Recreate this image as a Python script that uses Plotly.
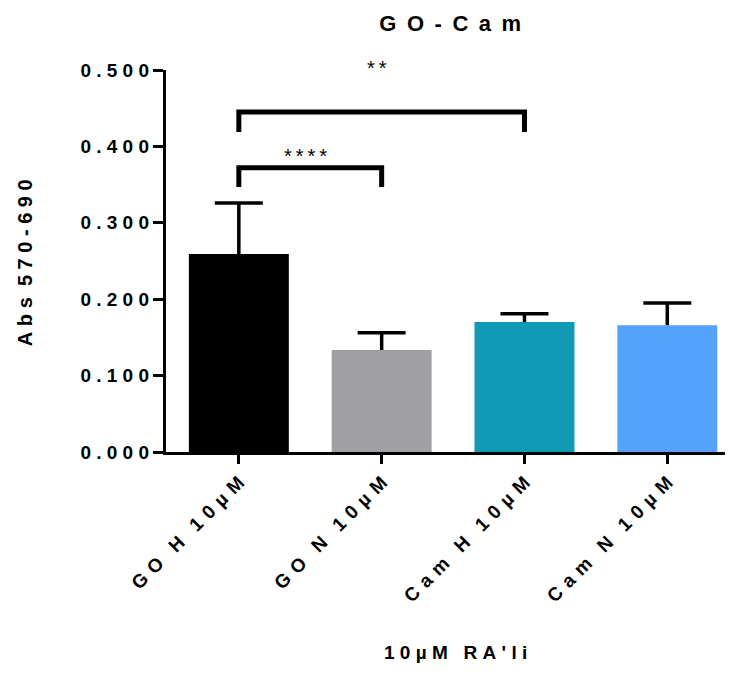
import plotly.graph_objects as go

NB = "\u00a0"   # non-breaking space used for letter spacing
TH = "\u2009"   # thin space
HS = "\u200a"   # hair space

def sp(s, gap=NB, word=NB * 3):
    words = s.split(" ")
    return word.join(gap.join(list(w)) for w in words)

categories = ["GO H 10µM", "GO N 10µM", "Cam H 10µM", "Cam N 10µM"]
means = [0.259, 0.1335, 0.170, 0.166]
sem_upper = [0.067, 0.0225, 0.011, 0.029]
colors = ["#000000", "#a09fa4", "#1099b4", "#55a2fd"]

y_ticks = [0.0, 0.1, 0.2, 0.3, 0.4, 0.5]
y_ticktext = ["0.000", "0.100", "0.200", "0.300", "0.400", "0.500"]

# significance brackets: (x_from, x_to, leg_bottom, top, label, label_y)
brackets = [
    (0, 1, 0.347, 0.372, "****", 0.388),
    (0, 2, 0.419, 0.445, "**", 0.503),
]

x_idx = list(range(len(categories)))
CAP = 0.168  # half cap width in category units
Y_MAX = 0.5

fig = go.Figure()
fig.add_trace(go.Bar(
    x=x_idx, y=means, width=0.7,
    marker=dict(color=colors, line=dict(width=0)),
    showlegend=False, hoverinfo="skip",
))

# upper-only error bars
ex, ey = [], []
for i, (m, s) in enumerate(zip(means, sem_upper)):
    ex += [i, i, None, i - CAP, i + CAP, None]
    ey += [m, m + s, None, m + s, m + s, None]
fig.add_trace(go.Scatter(x=ex, y=ey, mode="lines",
                         line=dict(color="black", width=3.5),
                         showlegend=False, hoverinfo="skip"))

FONT = "Liberation Sans"
for x0, x1, yb, yt, lab, ly in brackets:
    fig.add_trace(go.Scatter(
        x=[x0, x0, x1, x1], y=[yb, yt, yt, yb], mode="lines",
        line=dict(color="black", width=5), showlegend=False,
        cliponaxis=False, hoverinfo="skip",
    ))
    fig.add_annotation(
        x=(x0 + x1) / 2 - 0.03, xref="x", y=ly / Y_MAX, yref="paper",
        text=TH.join(list(lab)), showarrow=False,
        xanchor="center", yanchor="middle",
        font=dict(family=FONT, size=20, color="black"),
    )

fig.update_layout(
    width=725, height=666,
    margin=dict(l=158, r=0, t=62, b=222),
    plot_bgcolor="rgba(0,0,0,0)", paper_bgcolor="white",
    title=dict(text="<b>" + sp("GO-Cam", gap=NB + TH) + "</b>", x=0.61,
               xanchor="center", xref="container",
               y=0.977, yanchor="middle", yref="container",
               font=dict(family=FONT, size=22, color="black")),
    font=dict(family=FONT, color="black"),
)
fig.add_annotation(xref="paper", yref="paper", x=0.51, y=-0.5236,
                   text="<b>" + sp("10µM RA'li", gap=NB, word=NB * 3) + "</b>",
                   showarrow=False, xanchor="center", yanchor="middle",
                   font=dict(family=FONT, size=19, color="black"))
fig.add_annotation(xref="paper", yref="paper", x=-0.2487, y=0.497,
                   text="<b>" + sp("Abs 570-690", gap=NB, word=NB * 2) + "</b>",
                   textangle=-90, showarrow=False, xanchor="center", yanchor="middle",
                   font=dict(family=FONT, size=20, color="black"))

fig.update_xaxes(
    range=[-0.51, 3.46], tickvals=x_idx,
    ticktext=["<b>" + sp(c, gap=NB + HS, word=NB * 3) + "</b>" for c in categories],
    tickangle=-45, showline=True, linecolor="black", linewidth=3.3,
    ticks="outside", ticklen=9, tickwidth=3, tickcolor="black",
    tickfont=dict(family=FONT, size=19, color="black"),
    showgrid=False, zeroline=False,
)
fig.update_yaxes(
    range=[0, Y_MAX], tickvals=y_ticks,
    ticktext=["<b>" + sp(t, gap=NB) + "</b>" for t in y_ticktext],
    showline=True, linecolor="black", linewidth=3.3,
    ticks="outside", ticklen=10, tickwidth=3, tickcolor="black",
    tickfont=dict(family=FONT, size=19, color="black"),
    showgrid=False, zeroline=False,
)

fig.write_html("out.html")
